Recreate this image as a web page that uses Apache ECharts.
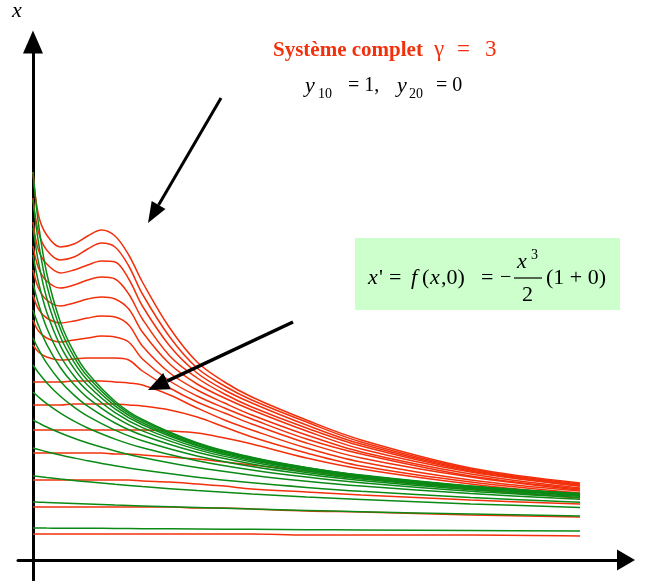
<!DOCTYPE html>
<html>
<head>
<meta charset="utf-8">
<script src="https://cdn.jsdelivr.net/npm/echarts@6/dist/echarts.min.js"></script>
<style>
  html, body { margin: 0; padding: 0; background: #fff; }
  #chart { width: 660px; height: 581px; }
</style>
</head>
<body>
<div id="chart"></div>
<script>
// temps (abscisse) des courbes
const greenT = [0, 0.1, 0.25, 0.5, 0.75, 1, 1.5, 2, 3, 4, 5, 6, 8, 10];
const redT = [0, 0.1, 0.25, 0.5, 0.75, 1, 1.25, 1.5, 1.75, 2, 2.5, 3, 3.5, 4, 5, 6, 8, 10];

// équation réduite x' = f(x,0)
const greenX = [
  [0.32, 0.320, 0.319, 0.318, 0.317, 0.317, 0.315, 0.313, 0.310, 0.307, 0.303, 0.300, 0.295, 0.289],
  [0.58, 0.578, 0.575, 0.570, 0.565, 0.560, 0.550, 0.541, 0.525, 0.510, 0.496, 0.483, 0.460, 0.440],
  [0.84, 0.834, 0.824, 0.809, 0.795, 0.782, 0.757, 0.734, 0.694, 0.660, 0.630, 0.605, 0.561, 0.526],
  [1.12, 1.105, 1.083, 1.050, 1.020, 0.992, 0.942, 0.899, 0.828, 0.772, 0.726, 0.687, 0.625, 0.578],
  [1.40, 1.371, 1.330, 1.270, 1.217, 1.170, 1.091, 1.026, 0.924, 0.848, 0.788, 0.739, 0.664, 0.607],
  [1.68, 1.630, 1.563, 1.468, 1.388, 1.320, 1.209, 1.122, 0.993, 0.900, 0.829, 0.773, 0.688, 0.626],
  [1.95, 1.873, 1.773, 1.637, 1.529, 1.439, 1.299, 1.193, 1.041, 0.935, 0.857, 0.795, 0.703, 0.637],
  [2.22, 2.109, 1.969, 1.788, 1.649, 1.538, 1.370, 1.247, 1.077, 0.961, 0.876, 0.810, 0.714, 0.645],
  [2.50, 2.344, 2.157, 1.925, 1.754, 1.622, 1.429, 1.291, 1.104, 0.981, 0.891, 0.822, 0.722, 0.651],
  [2.77, 2.562, 2.323, 2.040, 1.840, 1.690, 1.474, 1.324, 1.125, 0.995, 0.902, 0.830, 0.727, 0.655],
  [3.05, 2.779, 2.481, 2.144, 1.916, 1.747, 1.512, 1.352, 1.142, 1.006, 0.910, 0.837, 0.732, 0.658],
  [3.32, 2.978, 2.620, 2.232, 1.978, 1.794, 1.542, 1.373, 1.154, 1.015, 0.916, 0.842, 0.735, 0.661],
  [3.60, 3.176, 2.751, 2.312, 2.032, 1.834, 1.567, 1.391, 1.165, 1.022, 0.922, 0.846, 0.738, 0.663],
  [3.88, 3.363, 2.870, 2.381, 2.079, 1.869, 1.588, 1.405, 1.173, 1.028, 0.926, 0.849, 0.740, 0.664]
];

// système complet, gamma = 3
const redX = [
  [3.88, 3.45, 3.25, 3.13, 3.16, 3.24, 3.30, 3.24, 3.05, 2.78, 2.32, 1.98, 1.78, 1.63, 1.40, 1.20, 0.92, 0.77],
  [3.62, 3.28, 3.10, 3.00, 3.03, 3.11, 3.17, 3.13, 2.94, 2.66, 2.23, 1.92, 1.74, 1.60, 1.38, 1.18, 0.91, 0.76],
  [3.38, 3.10, 2.96, 2.87, 2.90, 2.95, 2.99, 2.98, 2.81, 2.54, 2.14, 1.87, 1.70, 1.57, 1.35, 1.16, 0.90, 0.75],
  [3.14, 2.92, 2.79, 2.72, 2.75, 2.80, 2.83, 2.81, 2.66, 2.41, 2.04, 1.82, 1.66, 1.53, 1.32, 1.14, 0.89, 0.74],
  [2.90, 2.72, 2.60, 2.54, 2.57, 2.61, 2.63, 2.61, 2.51, 2.28, 1.96, 1.76, 1.62, 1.50, 1.29, 1.11, 0.88, 0.74],
  [2.65, 2.51, 2.42, 2.37, 2.39, 2.42, 2.44, 2.43, 2.35, 2.14, 1.87, 1.70, 1.57, 1.45, 1.25, 1.08, 0.86, 0.72],
  [2.40, 2.29, 2.22, 2.18, 2.20, 2.22, 2.24, 2.23, 2.18, 2.01, 1.79, 1.64, 1.52, 1.41, 1.21, 1.06, 0.84, 0.71],
  [2.15, 2.08, 2.03, 2.00, 2.01, 2.02, 2.02, 2.02, 2.00, 1.89, 1.72, 1.58, 1.47, 1.36, 1.17, 1.02, 0.83, 0.70],
  [1.78, 1.78, 1.78, 1.78, 1.79, 1.79, 1.79, 1.78, 1.77, 1.75, 1.65, 1.52, 1.40, 1.30, 1.12, 0.98, 0.80, 0.69],
  [1.55, 1.55, 1.55, 1.55, 1.56, 1.56, 1.56, 1.56, 1.55, 1.54, 1.50, 1.43, 1.33, 1.23, 1.07, 0.94, 0.78, 0.67],
  [1.30, 1.30, 1.30, 1.30, 1.30, 1.30, 1.30, 1.30, 1.30, 1.30, 1.29, 1.27, 1.22, 1.16, 1.02, 0.91, 0.76, 0.65],
  [1.07, 1.07, 1.07, 1.07, 1.07, 1.07, 1.07, 1.06, 1.06, 1.05, 1.03, 1.01, 0.98, 0.95, 0.89, 0.82, 0.71, 0.62],
  [0.80, 0.80, 0.80, 0.80, 0.80, 0.80, 0.80, 0.80, 0.80, 0.79, 0.78, 0.76, 0.74, 0.71, 0.68, 0.65, 0.60, 0.56],
  [0.53, 0.53, 0.53, 0.53, 0.53, 0.53, 0.53, 0.53, 0.53, 0.53, 0.53, 0.52, 0.52, 0.51, 0.49, 0.48, 0.45, 0.43],
  [0.26, 0.26, 0.26, 0.26, 0.26, 0.26, 0.26, 0.26, 0.26, 0.26, 0.26, 0.26, 0.26, 0.26, 0.25, 0.25, 0.25, 0.24]
];

const RED = '#f2300c';
const GREEN = '#0b8a16';
const SERIF = '"Liberation Serif", "DejaVu Serif", serif';

const chart = echarts.init(document.getElementById('chart'));

const series = [];
redX.forEach((xs, i) => {
  series.push({
    name: 'complet' + i,
    type: 'line',
    data: redT.map((t, j) => [t, xs[j]]),
    showSymbol: false,
    smooth: 0.35,
    silent: true,
    lineStyle: { color: RED, width: 1.5 },
  });
});
greenX.forEach((xs, i) => {
  series.push({
    name: 'reduit' + i,
    type: 'line',
    data: greenT.map((t, j) => [t, xs[j]]),
    showSymbol: false,
    smooth: 0.35,
    silent: true,
    lineStyle: { color: GREEN, width: 1.5 },
  });
});

function txt(x, y, text, size, opts) {
  return {
    type: 'text',
    x: x,
    y: y,
    z: 20,
    style: Object.assign({
      text: text,
      fontSize: size,
      fontFamily: SERIF,
      fill: '#000',
      align: 'left',
      verticalAlign: 'middle',
    }, opts || {}),
  };
}

const graphics = [
  // étiquette de l'axe
  txt(12, 11, 'x', 22, { fontStyle: 'italic' }),
  // titre
  txt(273, 51, 'Système complet', 21, { fontWeight: 'bold', fill: RED }),
  txt(434, 50, 'γ', 23, { fill: RED }),
  txt(457, 50, '=', 23, { fill: RED }),
  txt(485, 50, '3', 23, { fill: RED }),
  // conditions initiales
  txt(305, 86, 'y', 22, { fontStyle: 'italic' }),
  txt(318, 94, '10', 14),
  txt(348, 86, '= 1,', 20),
  txt(397, 86, 'y', 22, { fontStyle: 'italic' }),
  txt(409, 94, '20', 14),
  txt(436, 86, '= 0', 20),
  // flèches
  { type: 'line', z: 15, shape: { x1: 221, y1: 98, x2: 158.6, y2: 204.9 }, style: { stroke: '#000', lineWidth: 3 } },
  { type: 'polygon', z: 15, shape: { points: [[148, 223], [165.5, 208.9], [151.7, 200.9]] }, style: { fill: '#000' } },
  { type: 'line', z: 15, shape: { x1: 293, y1: 322, x2: 167, y2: 381.1 }, style: { stroke: '#000', lineWidth: 3.5 } },
  { type: 'polygon', z: 15, shape: { points: [[148, 390], [170.8, 389.2], [163.2, 373.0]] }, style: { fill: '#000' } },
  // encadré de l'équation réduite
  { type: 'rect', z: 10, shape: { x: 355, y: 238, width: 265, height: 72 }, style: { fill: '#ccffcc' } },
  txt(368, 278, 'x', 22, { fontStyle: 'italic' }),
  txt(379, 278, "'", 22),
  txt(389, 278, '=', 22),
  txt(411, 278, 'f', 22, { fontStyle: 'italic' }),
  txt(422, 278, '(', 22),
  txt(430, 278, 'x', 22, { fontStyle: 'italic' }),
  txt(441, 278, ',0)', 22),
  txt(481, 278, '=', 22),
  txt(500, 278, '−', 20),
  txt(517, 262, 'x', 22, { fontStyle: 'italic' }),
  txt(531, 255, '3', 14),
  { type: 'line', z: 20, shape: { x1: 514, y1: 278, x2: 542, y2: 278 }, style: { stroke: '#000', lineWidth: 1.2 } },
  txt(522, 295, '2', 22),
  txt(546, 278, '(1 + 0)', 22),
];

const option = {
  animation: false,
  backgroundColor: '#fff',
  grid: { left: 18, right: 34, top: 42, bottom: 1, containLabel: false },
  xAxis: {
    type: 'value',
    min: -0.274,
    max: 10.84,
    axisLine: {
      onZero: true,
      lineStyle: { color: '#000', width: 3 },
      symbol: ['none', 'triangle'],
      symbolSize: [21, 18],
    },
    axisTick: { show: false },
    axisLabel: { show: false },
    splitLine: { show: false },
  },
  yAxis: {
    type: 'value',
    min: -0.2,
    max: 5.18,
    axisLine: {
      show: true,
      onZero: true,
      lineStyle: { color: '#000', width: 3 },
      symbol: ['none', 'triangle'],
      symbolSize: [20, 23],
    },
    axisTick: { show: false },
    axisLabel: { show: false },
    splitLine: { show: false },
  },
  graphic: graphics,
  series: series,
};

chart.setOption(option);
</script>
</body>
</html>
